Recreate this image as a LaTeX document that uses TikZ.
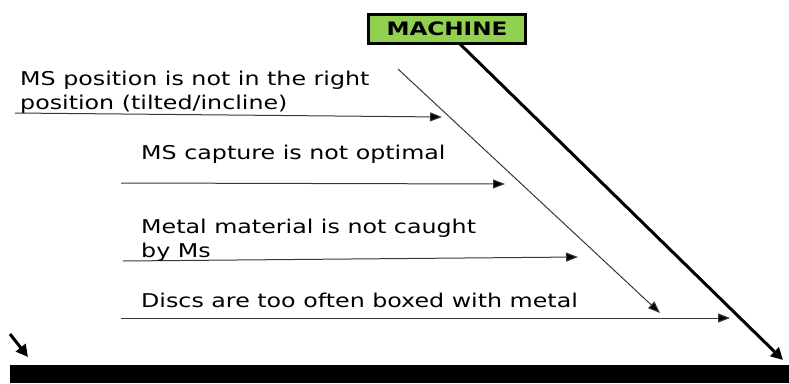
\documentclass[tikz,border=0pt]{standalone}
\usepackage{fontspec}
\setmainfont{DejaVu Sans}[FakeStretch=1.25]
\usetikzlibrary{arrows.meta}
\definecolor{boxgreen}{HTML}{92D050}
\definecolor{bonegray}{HTML}{383838}
\tikzset{
  cause/.style={font=\fontsize{19}{22}\selectfont, anchor=base west, inner sep=0pt, align=left},
  bone/.style={draw=bonegray, line width=1pt, -{Triangle[length=12pt,width=9pt,fill=black]}},
  spine/.style={draw=black, line width=3pt, -{Triangle[length=12pt,width=12pt]}},
}
\begin{document}
\begin{tikzpicture}[x=1pt,y=-1pt]
  \useasboundingbox (0,0) rectangle (789,383);
  % category box
  \node[draw=black, line width=3pt, fill=boxgreen, minimum width=157pt, minimum height=29pt,
        font=\bfseries\fontsize{18.5}{20}\selectfont, inner sep=0pt] (machine) at (447,29) {MACHINE};
  % main diagonal bone
  \coordinate (m0) at (460,44);
  \coordinate (m1) at (783,360);
  \draw[spine] (m0) -- (m1);
  % thin diagonal
  \coordinate (d0) at (398,69);
  \coordinate (d1) at (660,313);
  \draw[bone] (d0) -- (d1);
  % cause arrows
  \coordinate (a0) at (15,113);  \coordinate (a1) at (442,117);
  \coordinate (b0) at (121,183); \coordinate (b1) at (505,184);
  \coordinate (c0) at (123,261); \coordinate (c1) at (578,257);
  \coordinate (e0) at (121,318); \coordinate (e1) at (730,318);
  \draw[bone] (a0) -- (a1);
  \draw[bone] (b0) -- (b1);
  \draw[bone] (c0) -- (c1);
  \draw[bone] (e0) -- (e1);
  % labels
  \node[cause] (t1) at (20,85) {MS position is not in the right};
  \node[cause] (t1b) at (20,109) {position (tilted/incline)};
  \node[cause] (t2) at (141,159) {MS capture is not optimal};
  \node[cause] (t3) at (141,233) {Metal material is not caught};
  \node[cause] (t3b) at (141,257) {by Ms};
  \node[cause] (t4) at (141,307) {Discs are too often boxed with metal};
  % head spine and small arrow
  \fill[black] (10,365) rectangle (789,383);
  \coordinate (s0) at (10,334);
  \coordinate (s1) at (28,357);
  \draw[spine] (s0) -- (s1);
\end{tikzpicture}
\end{document}
